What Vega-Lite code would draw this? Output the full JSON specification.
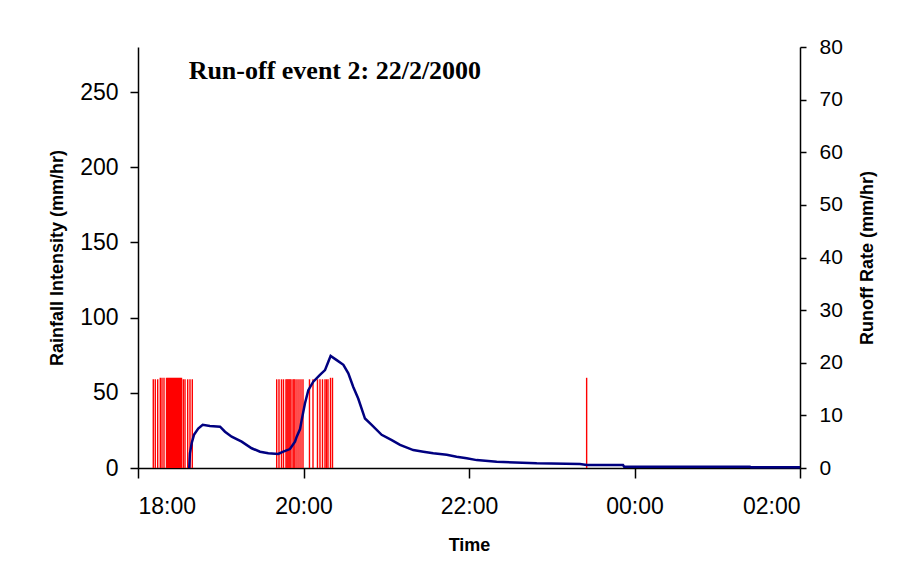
{
  "$schema": "https://vega.github.io/schema/vega-lite/v6.json",
  "width": 662,
  "height": 421,
  "autosize": {"type": "none"},
  "padding": {"left": 138, "top": 47, "right": 97, "bottom": 97},
  "background": "white",
  "config": {
    "view": {"stroke": null},
    "axis": {
      "labelFont": "Liberation Sans",
      "titleFont": "Liberation Sans",
      "labelColor": "#000000",
      "titleColor": "#000000",
      "domainColor": "#000000",
      "tickColor": "#000000",
      "grid": false,
      "titleFontWeight": "bold",
      "domainWidth": 1.5,
      "tickWidth": 1.5
    }
  },
  "title": {
    "text": "Run-off event 2: 22/2/2000",
    "anchor": "start",
    "font": "Liberation Serif",
    "fontSize": 26,
    "fontWeight": "bold",
    "color": "#000000",
    "offset": 0,
    "dx": 140,
    "dy": 48
  },
  "datasets": {
    "rain": [
      {"time": "2000-02-22T18:11:05", "rain": 59},
      {"time": "2000-02-22T18:12:32", "rain": 59},
      {"time": "2000-02-22T18:14:17", "rain": 59},
      {"time": "2000-02-22T18:16:10", "rain": 60},
      {"time": "2000-02-22T18:17:24", "rain": 60},
      {"time": "2000-02-22T18:18:51", "rain": 60},
      {"time": "2000-02-22T18:20:40", "rain": 60},
      {"time": "2000-02-22T18:21:23", "rain": 60},
      {"time": "2000-02-22T18:22:07", "rain": 60},
      {"time": "2000-02-22T18:22:50", "rain": 60},
      {"time": "2000-02-22T18:23:34", "rain": 60},
      {"time": "2000-02-22T18:24:17", "rain": 60},
      {"time": "2000-02-22T18:25:01", "rain": 60},
      {"time": "2000-02-22T18:25:44", "rain": 60},
      {"time": "2000-02-22T18:26:28", "rain": 60},
      {"time": "2000-02-22T18:27:11", "rain": 60},
      {"time": "2000-02-22T18:27:55", "rain": 60},
      {"time": "2000-02-22T18:28:38", "rain": 60},
      {"time": "2000-02-22T18:29:22", "rain": 60},
      {"time": "2000-02-22T18:30:05", "rain": 60},
      {"time": "2000-02-22T18:30:49", "rain": 60},
      {"time": "2000-02-22T18:31:32", "rain": 60},
      {"time": "2000-02-22T18:32:50", "rain": 59},
      {"time": "2000-02-22T18:34:05", "rain": 59},
      {"time": "2000-02-22T18:36:02", "rain": 59},
      {"time": "2000-02-22T18:37:42", "rain": 59},
      {"time": "2000-02-22T18:39:22", "rain": 59},
      {"time": "2000-02-22T19:40:34", "rain": 59},
      {"time": "2000-02-22T19:42:14", "rain": 59},
      {"time": "2000-02-22T19:44:02", "rain": 59},
      {"time": "2000-02-22T19:45:29", "rain": 59},
      {"time": "2000-02-22T19:47:18", "rain": 59},
      {"time": "2000-02-22T19:48:02", "rain": 59},
      {"time": "2000-02-22T19:48:45", "rain": 59},
      {"time": "2000-02-22T19:49:29", "rain": 59},
      {"time": "2000-02-22T19:50:12", "rain": 59},
      {"time": "2000-02-22T19:50:56", "rain": 59},
      {"time": "2000-02-22T19:52:23", "rain": 59},
      {"time": "2000-02-22T19:53:06", "rain": 59},
      {"time": "2000-02-22T19:53:50", "rain": 59},
      {"time": "2000-02-22T19:55:17", "rain": 59},
      {"time": "2000-02-22T19:56:44", "rain": 59},
      {"time": "2000-02-22T19:58:11", "rain": 59},
      {"time": "2000-02-22T19:59:38", "rain": 59},
      {"time": "2000-02-22T20:04:20", "rain": 59},
      {"time": "2000-02-22T20:06:53", "rain": 59},
      {"time": "2000-02-22T20:10:08", "rain": 59},
      {"time": "2000-02-22T20:11:57", "rain": 59},
      {"time": "2000-02-22T20:13:46", "rain": 59},
      {"time": "2000-02-22T20:15:35", "rain": 59},
      {"time": "2000-02-22T20:16:40", "rain": 59},
      {"time": "2000-02-22T20:17:45", "rain": 59},
      {"time": "2000-02-22T20:19:34", "rain": 60},
      {"time": "2000-02-22T20:21:01", "rain": 60},
      {"time": "2000-02-22T23:25:18", "rain": 60}
    ],
    "runoff": [
      {"time": "2000-02-22T18:37:10", "runoff": 0},
      {"time": "2000-02-22T18:37:40", "runoff": 2.8},
      {"time": "2000-02-22T18:38:55", "runoff": 4.7},
      {"time": "2000-02-22T18:40:35", "runoff": 6.3},
      {"time": "2000-02-22T18:43:40", "runoff": 7.5},
      {"time": "2000-02-22T18:46:55", "runoff": 8.2},
      {"time": "2000-02-22T18:52:10", "runoff": 8.0},
      {"time": "2000-02-22T18:59:30", "runoff": 7.85},
      {"time": "2000-02-22T19:03:05", "runoff": 6.9},
      {"time": "2000-02-22T19:07:55", "runoff": 5.95},
      {"time": "2000-02-22T19:15:10", "runoff": 5.0},
      {"time": "2000-02-22T19:22:25", "runoff": 3.75},
      {"time": "2000-02-22T19:28:30", "runoff": 3.1},
      {"time": "2000-02-22T19:34:30", "runoff": 2.8},
      {"time": "2000-02-22T19:41:40", "runoff": 2.66},
      {"time": "2000-02-22T19:45:20", "runoff": 3.1},
      {"time": "2000-02-22T19:50:10", "runoff": 3.6},
      {"time": "2000-02-22T19:53:50", "runoff": 5.0},
      {"time": "2000-02-22T19:55:05", "runoff": 5.95},
      {"time": "2000-02-22T19:57:30", "runoff": 7.4},
      {"time": "2000-02-22T19:58:40", "runoff": 9.1},
      {"time": "2000-02-22T20:01:05", "runoff": 12.3},
      {"time": "2000-02-22T20:03:30", "runoff": 14.8},
      {"time": "2000-02-22T20:07:05", "runoff": 16.4},
      {"time": "2000-02-22T20:11:55", "runoff": 17.7},
      {"time": "2000-02-22T20:15:35", "runoff": 18.6},
      {"time": "2000-02-22T20:18:00", "runoff": 20.2},
      {"time": "2000-02-22T20:19:40", "runoff": 21.3},
      {"time": "2000-02-22T20:24:05", "runoff": 20.5},
      {"time": "2000-02-22T20:28:55", "runoff": 19.6},
      {"time": "2000-02-22T20:32:30", "runoff": 18.0},
      {"time": "2000-02-22T20:36:05", "runoff": 15.4},
      {"time": "2000-02-22T20:39:40", "runoff": 13.2},
      {"time": "2000-02-22T20:44:35", "runoff": 9.4},
      {"time": "2000-02-22T20:49:25", "runoff": 8.2},
      {"time": "2000-02-22T20:56:40", "runoff": 6.3},
      {"time": "2000-02-22T21:04:00", "runoff": 5.3},
      {"time": "2000-02-22T21:10:00", "runoff": 4.4},
      {"time": "2000-02-22T21:19:35", "runoff": 3.4},
      {"time": "2000-02-22T21:26:55", "runoff": 3.1},
      {"time": "2000-02-22T21:34:05", "runoff": 2.8},
      {"time": "2000-02-22T21:43:50", "runoff": 2.5},
      {"time": "2000-02-22T21:51:00", "runoff": 2.15},
      {"time": "2000-02-22T21:58:20", "runoff": 1.85},
      {"time": "2000-02-22T22:05:35", "runoff": 1.5},
      {"time": "2000-02-22T22:20:05", "runoff": 1.2},
      {"time": "2000-02-22T22:49:05", "runoff": 0.9},
      {"time": "2000-02-22T23:20:30", "runoff": 0.76},
      {"time": "2000-02-22T23:25:20", "runoff": 0.57},
      {"time": "2000-02-22T23:51:40", "runoff": 0.57},
      {"time": "2000-02-22T23:52:30", "runoff": 0.25},
      {"time": "2000-02-23T01:23:40", "runoff": 0.25},
      {"time": "2000-02-23T01:24:30", "runoff": 0.13},
      {"time": "2000-02-23T02:00:00", "runoff": 0.13}
    ]
  },
  "layer": [
    {
      "data": {"name": "rain"},
      "mark": {"type": "rule", "color": "#ff0000", "strokeWidth": 1.4},
      "encoding": {
        "x": {
          "field": "time",
          "type": "temporal",
          "scale": {
            "domain": ["2000-02-22T18:00:00", "2000-02-23T02:00:00"],
            "nice": false
          },
          "axis": {
            "format": "%H:%M",
            "values": ["2000-02-22T18:00:00", "2000-02-22T20:00:00", "2000-02-22T22:00:00", "2000-02-23T00:00:00", "2000-02-23T02:00:00"],
            "labelFontSize": 23,
            "labelPadding": 17,
            "tickSize": 10,
            "title": "Time",
            "titleFontSize": 18,
            "titlePadding": 18
          }
        },
        "y": {
          "field": "rain",
          "type": "quantitative",
          "scale": {"domain": [0, 280], "nice": false},
          "axis": {
            "orient": "left",
            "values": [0, 50, 100, 150, 200, 250],
            "title": "Rainfall Intensity (mm/hr)",
            "labelFontSize": 23,
            "labelPadding": 12,
            "tickSize": 8,
            "titleFontSize": 18,
            "titlePadding": 13
          }
        },
        "y2": {"datum": 0}
      }
    },
    {
      "data": {"name": "runoff"},
      "mark": {"type": "line", "color": "#000080", "strokeWidth": 2.5},
      "encoding": {
        "x": {"field": "time", "type": "temporal"},
        "y": {
          "field": "runoff",
          "type": "quantitative",
          "scale": {"domain": [0, 80], "nice": false},
          "axis": {
            "orient": "right",
            "values": [0, 10, 20, 30, 40, 50, 60, 70, 80],
            "title": "Runoff Rate (mm/hr)",
            "titleAngle": 270,
            "labelFontSize": 21,
            "labelPadding": 13,
            "tickSize": 6,
            "titleFontSize": 18,
            "titlePadding": 34
          }
        }
      }
    }
  ],
  "resolve": {"scale": {"y": "independent"}}
}
